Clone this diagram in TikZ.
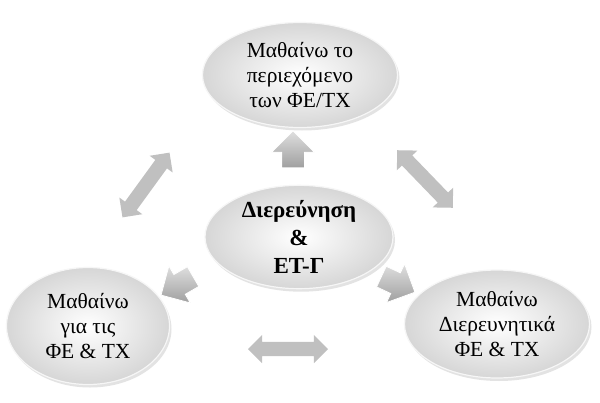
\documentclass[tikz,border=0pt]{standalone}
\usepackage{fontspec}
\setmainfont{Liberation Serif}
\usetikzlibrary{shapes.geometric,shapes.arrows,shadows}
\definecolor{arrowgrey}{HTML}{C0C0C0}
\definecolor{rimgrey}{HTML}{F6F6F6}

\tikzset{
  bubble/.style={ellipse, inner sep=0pt, align=center, shading=radial,
    inner color=white, outer color=gray!32, draw=rimgrey, line width=1.2pt,
    drop shadow={shadow xshift=2pt, shadow yshift=-3pt, opacity=0.22, fill=gray},
    font=\fontsize{21.5}{25}\selectfont},
  twoway/.style={double arrow, fill=arrowgrey, inner sep=7pt, minimum height=80pt,
    double arrow head extend=7pt},
  push/.style={single arrow, shading=axis, top color=gray!25, bottom color=gray!75,
    draw=white, line width=0.8pt, inner sep=11pt, minimum height=37pt,
    single arrow head extend=10pt}
}

\begin{document}
\begin{tikzpicture}[x=1pt,y=-1pt]
\useasboundingbox[fill=white] (0,0) rectangle (600,402);

% four bubbles
\node[bubble, minimum width=195pt, minimum height=105pt] (content) at (300,75)
  {Μαθαίνω το\\περιεχόμενο\\των ΦΕ/ΤΧ};
\node[bubble, minimum width=188pt, minimum height=100pt,
  font=\fontsize{23}{28}\selectfont\bfseries] (enquiry) at (299,237)
  {Διερεύνηση\\\&\\ΕΤ-Γ};
\node[bubble, minimum width=163pt, minimum height=117pt] (about) at (88,326)
  {Μαθαίνω\\για τις\\ΦΕ \& ΤΧ};
\node[bubble, minimum width=185pt, minimum height=108pt] (byenquiry) at (497,324)
  {Μαθαίνω\\Διερευνητικά\\ΦΕ \& ΤΧ};

% block arrows out of the centre
\node[push, rotate=90] (toContent) at (293,155) {};
\node[push, rotate=210] (toAbout) at (182,283) {};
\node[push, rotate=-25] (toByEnquiry) at (393,282) {};

% two-way arrows between the outer bubbles
\node[twoway, rotate=54] (aboutContent) at (146,185) {};
\node[twoway, rotate=-46] (contentByEnquiry) at (425,179) {};
\node[twoway] (aboutByEnquiry) at (288,349) {};
\end{tikzpicture}
\end{document}
